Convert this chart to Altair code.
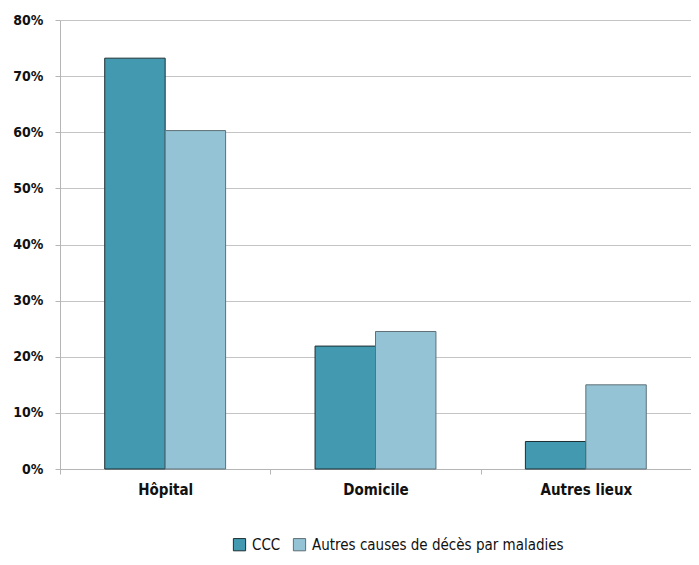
import altair as alt
import pandas as pd

categories = ["Hôpital", "Domicile", "Autres lieux"]
series = ["CCC", "Autres causes de décès par maladies"]
ccc_values = [0.732, 0.219, 0.049]
autres_values = [0.603, 0.245, 0.150]
y_ticks = [0, 0.1, 0.2, 0.3, 0.4, 0.5, 0.6, 0.7, 0.8]

rows = []
for c, a, b in zip(categories, ccc_values, autres_values):
    rows.append({"lieu": c, "serie": series[0], "val": a})
    rows.append({"lieu": c, "serie": series[1], "val": b})
df = pd.DataFrame(rows)

FONT = "Liberation Sans Narrow, DejaVu Sans Condensed, Roboto Condensed, sans-serif"

chart = alt.Chart(df).mark_bar(strokeWidth=1).encode(
    x=alt.X("lieu:N", sort=categories, title=None,
            scale=alt.Scale(paddingInner=0, paddingOuter=0),
            axis=alt.Axis(labelAngle=0, tickBand="extent", tickSize=5,
                          labelFont=FONT, labelFontWeight="bold", labelFontSize=15,
                          labelColor="#111", labelPadding=8,
                          domainColor="#b5b5b5", tickColor="#b5b5b5", grid=False)),
    xOffset=alt.XOffset("serie:N", sort=series,
                        scale=alt.Scale(paddingInner=0, paddingOuter=0.74)),
    y=alt.Y("val:Q", title=None,
            scale=alt.Scale(domain=[0, 0.8], nice=False),
            axis=alt.Axis(values=y_ticks, format=".0%", tickSize=5,
                          labelFont=FONT, labelFontWeight="bold", labelFontSize=14,
                          labelColor="#111", labelPadding=12,
                          domainColor="#b5b5b5", tickColor="#b5b5b5",
                          gridColor="#c4c4c4")),
    fill=alt.Fill("serie:N", sort=series,
                  scale=alt.Scale(domain=series, range=["#4399B0", "#93C3D5"]),
                  legend=alt.Legend(title=None, orient="none", direction="horizontal",
                                    legendX=172, legendY=517,
                                    symbolType="square", symbolSize=150,
                                    symbolStrokeWidth=1, labelLimit=0,
                                    labelFont=FONT, labelFontSize=15, labelColor="#111",
                                    columnPadding=10, labelOffset=5)),
    stroke=alt.Stroke("serie:N", sort=series,
                      scale=alt.Scale(domain=series, range=["#1d2f33", "#5f7077"]),
                      legend=None),
).properties(
    width=631, height=449,
    padding={"left": 52, "top": 12, "right": 0, "bottom": 88},
    autosize=alt.AutoSizeParams(type="none"),
).configure_view(stroke=None)

chart.save("out.html", embed_options={"renderer": "svg", "actions": False})
